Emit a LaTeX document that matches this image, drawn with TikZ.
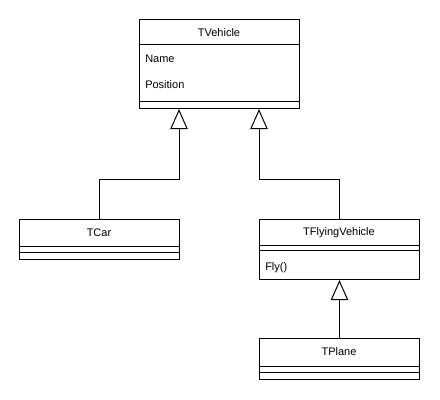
\documentclass[tikz,border=0pt]{standalone}
\usepackage{fontspec}
\setmainfont{Liberation Sans}
\usetikzlibrary{arrows.meta}
\begin{document}
\begin{tikzpicture}[x=0.75pt,y=-0.75pt,
  box/.style={draw,line width=0.75pt,minimum width=120pt,inner sep=0pt,anchor=north west},
  txt/.style={font=\fontsize{8.25}{10}\selectfont,inner sep=0pt},
  sep/.style={line width=0.75pt},
  inh/.style={line width=0.75pt,-{Triangle[open,length=15pt,width=13pt]}}]
\useasboundingbox (0,0) rectangle (440,400);
% TVehicle
\node[box,minimum height=66.75pt] (veh) at (139,19) {};
\draw[sep] (139,44) -- (299,44);
\draw[sep] (139,101) -- (299,101);
\node[txt] (vehn) at (219,33) {TVehicle};
\node[txt,anchor=west] (a1) at (145,59) {Name};
\node[txt,anchor=west] (a2) at (145,85) {Position};
% TCar
\node[box,minimum height=30pt] (car) at (19,219) {};
\draw[sep] (19,246) -- (179,246);
\draw[sep] (19,252) -- (179,252);
\node[txt] (carn) at (99,233) {TCar};
% TFlyingVehicle
\node[box,minimum height=45pt] (fly) at (259,219) {};
\draw[sep] (259,245) -- (419,245);
\draw[sep] (259,250) -- (419,250);
\node[txt] (flyn) at (339,233) {TFlyingVehicle};
\node[txt,anchor=west] (m1) at (265,268) {Fly()};
% TPlane
\node[box,minimum height=30.75pt] (pl) at (259,338) {};
\draw[sep] (259,366) -- (419,366);
\draw[sep] (259,372) -- (419,372);
\node[txt] (pln) at (339,352) {TPlane};
% connectors
\draw[inh] (car.north) -- ++(0,-40) -| ([xshift=30pt]veh.south west);
\draw[inh] (fly.north) -- ++(0,-40) -| ([xshift=90pt]veh.south west);
\draw[inh] (pl.north) -- (fly.south);
\end{tikzpicture}
\end{document}
